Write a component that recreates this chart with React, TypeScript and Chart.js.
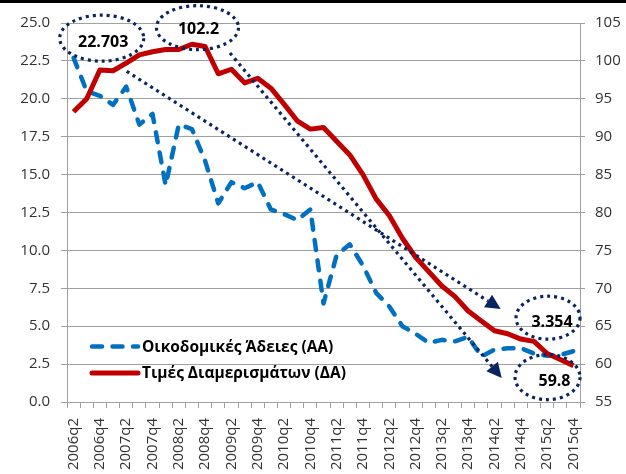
import React, { useEffect, useRef } from 'react';
import { Chart, registerables } from 'chart.js';

Chart.register(...registerables);

// ---- Data ----
const quarters = [
  '2006q2', '2006q3', '2006q4',
  '2007q1', '2007q2', '2007q3', '2007q4',
  '2008q1', '2008q2', '2008q3', '2008q4',
  '2009q1', '2009q2', '2009q3', '2009q4',
  '2010q1', '2010q2', '2010q3', '2010q4',
  '2011q1', '2011q2', '2011q3', '2011q4',
  '2012q1', '2012q2', '2012q3', '2012q4',
  '2013q1', '2013q2', '2013q3', '2013q4',
  '2014q1', '2014q2', '2014q3', '2014q4',
  '2015q1', '2015q2', '2015q3', '2015q4',
];

// Οικοδομικές Άδειες (ΑΑ) – left axis
const permits = [
  22.703, 20.5, 20.2,
  19.6, 20.8, 18.3, 19.0,
  14.3, 18.3, 18.0, 15.9,
  13.1, 14.5, 14.1, 14.5,
  12.7, 12.4, 12.0, 12.7,
  6.5, 9.7, 10.4, 9.0,
  7.2, 6.3, 5.0, 4.5,
  3.9, 4.1, 4.0, 4.3,
  3.0, 3.45, 3.55, 3.55,
  3.2, 3.05, 3.1, 3.354,
];

// Τιμές Διαμερισμάτων (ΔΑ) – right axis
const prices = [
  93.3, 95.0, 98.8,
  98.7, 99.7, 100.8, 101.2,
  101.5, 101.5, 102.2, 101.9,
  98.3, 98.9, 97.1, 97.7,
  96.4, 94.3, 92.1, 91.0,
  91.2, 89.4, 87.6, 85.0,
  81.8, 79.6, 76.6, 74.1,
  72.2, 70.3, 68.9, 67.0,
  65.7, 64.4, 64.0, 63.3,
  63.0, 61.4, 60.6, 59.8,
];

const seriesLabels = ['Οικοδομικές Άδειες (ΑΑ)', 'Τιμές Διαμερισμάτων (ΔΑ)'];
const leftTicks = { min: 0, max: 25, step: 2.5 };
const rightTicks = { min: 55, max: 105, step: 5 };

const FONT = "'Open Sans', 'DejaVu Sans', sans-serif";
const NAVY = '#0A2460';
const BLUE = '#0070C0';
const RED = '#C00000';
const GRID = '#A0A0A0';
const TXT = '#333333';

function dottedEllipse(ctx: CanvasRenderingContext2D, cx: number, cy: number, rx: number, ry: number) {
  ctx.save();
  ctx.strokeStyle = NAVY;
  ctx.lineWidth = 3.2;
  ctx.setLineDash([3, 4]);
  ctx.beginPath();
  ctx.ellipse(cx, cy, rx, ry, 0, 0, Math.PI * 2);
  ctx.stroke();
  ctx.restore();
}

function dottedArrow(ctx: CanvasRenderingContext2D, x1: number, y1: number, x2: number, y2: number) {
  const ang = Math.atan2(y2 - y1, x2 - x1);
  const headLen = 15;
  const headW = 7.5;
  const bx = x2 - headLen * Math.cos(ang);
  const by = y2 - headLen * Math.sin(ang);
  ctx.save();
  ctx.strokeStyle = NAVY;
  ctx.fillStyle = NAVY;
  ctx.lineWidth = 3.2;
  ctx.setLineDash([3, 4]);
  ctx.beginPath();
  ctx.moveTo(x1, y1);
  ctx.lineTo(bx, by);
  ctx.stroke();
  ctx.setLineDash([]);
  ctx.beginPath();
  ctx.moveTo(x2, y2);
  ctx.lineTo(bx + headW * Math.sin(ang), by - headW * Math.cos(ang));
  ctx.lineTo(bx - headW * Math.sin(ang), by + headW * Math.cos(ang));
  ctx.closePath();
  ctx.fill();
  ctx.restore();
}

const decorPlugin = {
  id: 'decor',
  beforeDraw(chart: any) {
    const ctx = chart.ctx as CanvasRenderingContext2D;
    ctx.save();
    ctx.fillStyle = '#ffffff';
    ctx.fillRect(0, 0, chart.width, chart.height);
    ctx.fillStyle = '#000000';
    ctx.fillRect(0, 0, chart.width, 3);
    ctx.restore();
  },
  afterDatasetsDraw(chart: any) {
    const ctx = chart.ctx as CanvasRenderingContext2D;
    const xs = chart.scales.x;
    const yl = chart.scales.y;
    const area = chart.chartArea;
    const X = (i: number) => xs.getPixelForValue(i);
    const Y = (v: number) => yl.getPixelForValue(v);
    const last = quarters.length - 1;
    const maxIdx = prices.indexOf(Math.max(...prices));

    // callout ellipses (anchored in data space)
    const callouts = [
      { cx: 2.14, cy: 24.0, rx: 42, ry: 23, text: permits[0].toFixed(3), dx: 1.5, dy: 4 },
      { cx: maxIdx + 0.42, cy: 24.69, rx: 41, ry: 22, text: prices[maxIdx].toFixed(1), dx: 1, dy: 1.5 },
      { cx: last - 1.93, cy: 5.56, rx: 32, ry: 21.5, text: permits[last].toFixed(3), dx: 4, dy: 5 },
      { cx: last - 1.97, cy: 1.64, rx: 32.5, ry: 22.5, text: prices[last].toFixed(1), dx: 7, dy: 4 },
    ];
    for (const c of callouts) {
      const px = X(c.cx);
      const py = Y(c.cy);
      dottedEllipse(ctx, px, py, c.rx, c.ry);
      ctx.save();
      ctx.fillStyle = '#000';
      ctx.font = `bold 16px ${FONT}`;
      ctx.textAlign = 'center';
      ctx.textBaseline = 'middle';
      ctx.fillText(c.text, px + c.dx, py + c.dy);
      ctx.restore();
    }

    // trend arrows
    dottedArrow(ctx, X(4.04), Y(21.81), X(32.47), Y(6.13));
    dottedArrow(ctx, X(11.89), Y(23.02), X(32.55), Y(1.58));

    // legend inside plot area
    const lx0 = area.left + 23;
    const lx1 = area.left + 73;
    const rows = [
      { y: area.bottom - 55.5, color: BLUE, dash: [10, 10.5], label: seriesLabels[0] },
      { y: area.bottom - 29, color: RED, dash: [] as number[], label: seriesLabels[1] },
    ];
    for (const r of rows) {
      ctx.save();
      ctx.strokeStyle = r.color;
      ctx.lineWidth = r.dash.length ? 4.5 : 5;
      ctx.lineCap = 'round';
      ctx.setLineDash(r.dash);
      ctx.beginPath();
      ctx.moveTo(lx0 + 2, r.y);
      ctx.lineTo(lx1 - 2, r.y);
      ctx.stroke();
      ctx.setLineDash([]);
      ctx.fillStyle = '#000';
      ctx.font = `bold 15.5px ${FONT}`;
      ctx.textAlign = 'left';
      ctx.textBaseline = 'middle';
      ctx.fillText(r.label, lx1 + 2, r.y + 1);
      ctx.restore();
    }
  },
};

export default function App() {
  const ref = useRef<HTMLCanvasElement>(null);

  useEffect(() => {
    if (!ref.current) return;
    const chart = new Chart(ref.current, {
      type: 'line',
      data: {
        labels: quarters,
        datasets: [
          {
            label: seriesLabels[0],
            data: permits,
            yAxisID: 'y',
            borderColor: BLUE,
            borderWidth: 4.5,
            borderDash: [10, 10.5],
            borderCapStyle: 'round',
            borderJoinStyle: 'round',
            pointRadius: 0,
            tension: 0,
            fill: false,
            order: 1,
          },
          {
            label: seriesLabels[1],
            data: prices,
            yAxisID: 'y1',
            borderColor: RED,
            borderWidth: 5,
            borderJoinStyle: 'round',
            pointRadius: 0,
            tension: 0,
            fill: false,
            order: 0,
          },
        ],
      },
      options: {
        responsive: false,
        animation: false,
        devicePixelRatio: 1,
        layout: { padding: { top: 23, left: 0, right: 0, bottom: 0 } },
        plugins: {
          legend: { display: false },
          tooltip: { enabled: false },
          title: { display: false },
        },
        scales: {
          x: {
            type: 'category',
            offset: true,
            grid: {
              offset: true,
              drawOnChartArea: false,
              drawTicks: true,
              tickLength: 6,
              color: GRID,
            },
            border: { color: GRID, width: 1 },
            ticks: {
              autoSkip: false,
              maxRotation: 90,
              minRotation: 90,
              padding: 10,
              color: TXT,
              font: { family: FONT, size: 15 },
              callback: (_v: any, i: number) => (i % 2 === 0 ? quarters[i] : ''),
            },
            afterFit: (s: any) => {
              s.height = 72;
            },
          },
          y: {
            position: 'left',
            min: leftTicks.min,
            max: leftTicks.max,
            grid: { color: GRID, tickLength: 6, drawTicks: true },
            border: { color: GRID, width: 1 },
            ticks: {
              stepSize: leftTicks.step,
              padding: 11,
              color: TXT,
              font: { family: FONT, size: 15 },
              callback: (v: any) => Number(v).toFixed(1),
            },
            afterFit: (s: any) => {
              s.width = 67;
            },
          },
          y1: {
            position: 'right',
            min: rightTicks.min,
            max: rightTicks.max,
            grid: { drawOnChartArea: false, color: GRID, tickLength: 5, drawTicks: true },
            border: { color: GRID, width: 1 },
            ticks: {
              stepSize: rightTicks.step,
              padding: 10,
              color: TXT,
              font: { family: FONT, size: 15 },
              callback: (v: any) => String(v),
            },
            afterFit: (s: any) => {
              s.width = 46;
            },
          },
        },
      } as any,
      plugins: [decorPlugin],
    });
    return () => chart.destroy();
  }, []);

  return (
    <div style={{ position: 'fixed', left: 0, top: 0, width: 626, height: 474, background: '#fff' }}>
      <canvas ref={ref} width={626} height={474} style={{ display: 'block', width: 626, height: 474 }} />
    </div>
  );
}
